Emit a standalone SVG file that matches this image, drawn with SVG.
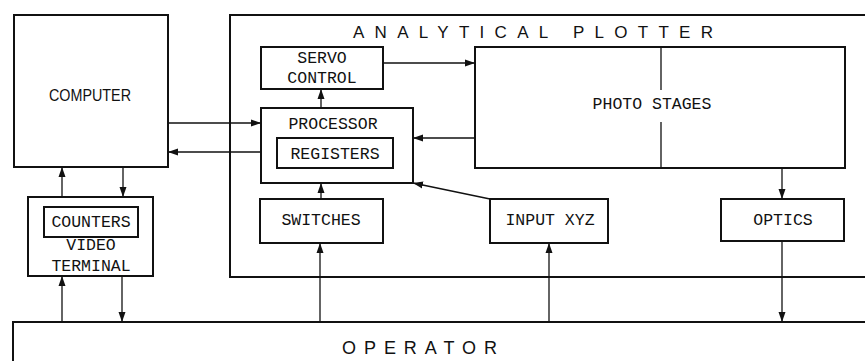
<svg xmlns="http://www.w3.org/2000/svg" width="865" height="361" viewBox="0 0 865 361">
<style>
.box{fill:none;stroke:#111;stroke-width:2}
.ln{fill:none;stroke:#111;stroke-width:1.3}
.mono{font-family:"Liberation Mono","DejaVu Sans Mono",monospace;font-size:16.5px;fill:#111;text-anchor:middle;dominant-baseline:central}
.sans{font-family:"Liberation Sans","DejaVu Sans",sans-serif;fill:#111}
</style>
<defs>
<marker id="ah" markerUnits="userSpaceOnUse" markerWidth="10" markerHeight="8" refX="10" refY="4" orient="auto">
<path d="M0,0.5 L10,4 L0,7.5 Z" fill="#111"/>
</marker>
</defs>
<rect width="865" height="361" fill="#fff"/>

<g id="plotter">
<path class="box" d="M865,15 H230 V277 H865"/>
<text class="sans" x="353" y="38" font-size="17" textLength="360" lengthAdjust="spacing">ANALYTICAL  PLOTTER</text>
</g>

<g id="computer">
<rect class="box" x="14" y="15" width="154" height="152"/>
<text class="sans" x="49" y="101" font-size="17" textLength="82" lengthAdjust="spacingAndGlyphs">COMPUTER</text>
</g>

<g id="video-terminal">
<rect class="box" x="28" y="197" width="125" height="79"/>
<rect class="box" x="44" y="207" width="94" height="30"/>
<text class="mono" x="91" y="222">COUNTERS</text>
<text class="mono" x="91" y="245">VIDEO</text>
<text class="mono" x="91" y="266">TERMINAL</text>
</g>

<g id="servo-control">
<rect class="box" x="261" y="47" width="122" height="42"/>
<text class="mono" x="322" y="58">SERVO</text>
<text class="mono" x="322" y="78">CONTROL</text>
</g>

<g id="processor">
<rect class="box" x="261" y="108" width="152" height="75"/>
<text class="mono" x="333" y="124" font-size="18.5">PROCESSOR</text>
<rect class="box" x="277" y="138" width="116" height="30"/>
<text class="mono" x="335" y="154">REGISTERS</text>
</g>

<g id="photo-stages">
<rect class="box" x="475" y="47" width="370" height="121"/>
<path class="ln" d="M661,47 V90 M661,122 V168"/>
<text class="mono" x="652" y="104">PHOTO STAGES</text>
</g>

<g id="switches">
<rect class="box" x="260" y="199" width="123" height="44"/>
<text class="mono" x="321" y="220">SWITCHES</text>
</g>

<g id="input-xyz">
<rect class="box" x="490" y="199" width="118" height="44"/>
<text class="mono" x="550" y="220">INPUT XYZ</text>
</g>

<g id="optics">
<rect class="box" x="721" y="199" width="123" height="42"/>
<text class="mono" x="783" y="220">OPTICS</text>
</g>

<g id="operator">
<path class="box" d="M13,361 V322 H865"/>
<text class="sans" x="342" y="354" font-size="18" textLength="155" lengthAdjust="spacing">OPERATOR</text>
</g>

<g id="connectors">
<path class="ln" d="M168,123 H261" marker-end="url(#ah)"/>
<path class="ln" d="M261,152 H168" marker-end="url(#ah)"/>
<path class="ln" d="M62,197 V167" marker-end="url(#ah)"/>
<path class="ln" d="M123,167 V197" marker-end="url(#ah)"/>
<path class="ln" d="M62,322 V276" marker-end="url(#ah)"/>
<path class="ln" d="M122,276 V322" marker-end="url(#ah)"/>
<path class="ln" d="M383,63 H475" marker-end="url(#ah)"/>
<path class="ln" d="M321,108 V89" marker-end="url(#ah)"/>
<path class="ln" d="M475,138 H413" marker-end="url(#ah)"/>
<path class="ln" d="M321,199 V183" marker-end="url(#ah)"/>
<path class="ln" d="M490,199 L413,183" marker-end="url(#ah)"/>
<path class="ln" d="M782,168 V199" marker-end="url(#ah)"/>
<path class="ln" d="M782,241 V322" marker-end="url(#ah)"/>
<path class="ln" d="M320,322 V243" marker-end="url(#ah)"/>
<path class="ln" d="M549,322 V243" marker-end="url(#ah)"/>
</g>
</svg>
